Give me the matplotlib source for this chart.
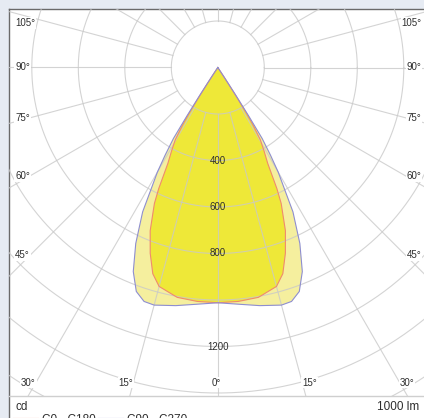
import numpy as np
import matplotlib
matplotlib.use('Agg')
import matplotlib.pyplot as plt

# Luminous intensity (cd) per gamma angle (deg from nadir), half curves, mirrored
gamma_c0 = [0, 5, 10, 15, 17.5, 20, 22.5, 25, 26, 27.5, 29, 30.5, 31.5, 32, 32.5, 33, 33.5, 34]
cd_c0 = [1012, 1010, 1004, 975, 930, 850, 760, 645, 580, 465, 410, 360, 290, 235, 160, 85, 25, 0]

gamma_c90 = [0, 5, 10, 15, 17.5, 20, 22.5, 25, 27.5, 30, 31, 32, 32.5, 33, 33.5, 34]
cd_c90 = [1012, 1022, 1040, 1058, 1055, 1025, 950, 835, 700, 520, 440, 360, 250, 140, 50, 0]

ring_values = [200, 400, 600, 800, 1000, 1200, 1400, 1600, 1800]
ring_labels = [400, 600, 800, 1200]
spoke_angles = list(range(0, 360, 15))
side_angles = [45, 60, 75, 90, 105]
bottom_angles = [0, 15, 30]
flux_text = '1000 lm'
unit_text = 'cd'
legend_names = ['C0 - C180', 'C90 - C270']

plt.rcParams['font.family'] = ['Liberation Sans', 'DejaVu Sans']

W, H = 424, 418
fig = plt.figure(figsize=(W / 100, H / 100), dpi=100, facecolor='#e6ebf3')

# white panel with dark left/top border
panel_l, panel_r, panel_t = 9, 426.6, 9
panel = fig.add_axes([panel_l / W, 0, (panel_r - panel_l) / W, (H - panel_t) / H])
panel.set_facecolor('white')
panel.set_xticks([])
panel.set_yticks([])
for side in ['right', 'bottom']:
    panel.spines[side].set_visible(False)
for side in ['left', 'top']:
    panel.spines[side].set_color('#6a6a6a')
    panel.spines[side].set_linewidth(1.0)

# polar diagram area (pixel geometry)
plot_b = 396
cx, cy = 217.8, 67.5   # origin in pixels
k = 0.2325             # pixels per cd

ax = fig.add_axes([panel_l / W, (H - plot_b) / H, (panel_r - panel_l) / W, (plot_b - panel_t) / H])
ax.set_facecolor('none')
ax.set_xlim((panel_l - cx) / k, (panel_r - cx) / k)
ax.set_ylim((cy - plot_b) / k, (cy - panel_t) / k)
ax.set_xticks([])
ax.set_yticks([])
for side in ['left', 'right', 'top']:
    ax.spines[side].set_visible(False)
ax.spines['bottom'].set_color('#cfcfcf')
ax.spines['bottom'].set_linewidth(1.0)


def px2data(px, py):
    return (px - cx) / k, (cy - py) / k


def curve_xy(gammas, values):
    g = np.radians(np.array(gammas, dtype=float))
    v = np.array(values, dtype=float)
    x = np.concatenate([-(v * np.sin(g))[::-1], v * np.sin(g)])
    y = np.concatenate([-(v * np.cos(g))[::-1], -v * np.cos(g)])
    return x, y


x90, y90 = curve_xy(gamma_c90, cd_c90)
x0, y0 = curve_xy(gamma_c0, cd_c0)

ax.fill(x90, y90, color='#f5ef9e', zorder=1, lw=0)
ax.fill(x0, y0, color='#eee838', zorder=1.5, lw=0)

# grid: rings and spokes
grid_kw = dict(color='#c9c9c9', lw=0.8, alpha=0.8, zorder=2)
t = np.linspace(0, 2 * np.pi, 400)
for r in ring_values:
    ax.plot(r * np.cos(t), r * np.sin(t), **grid_kw)
for a in spoke_angles:
    ar = np.radians(a)
    ax.plot([200 * np.sin(ar), 2400 * np.sin(ar)], [-200 * np.cos(ar), -2400 * np.cos(ar)], **grid_kw)

ax.plot(x0, y0, color='#f08a6e', lw=0.8, zorder=3)
ax.plot(x90, y90, color='#8e8ed0', lw=0.8, zorder=3.2)

txt = '#2e2e2e'
for r in ring_labels:
    ax.text(0, -r, str(r), ha='center', va='center', fontsize=7, color=txt, zorder=4)

box = dict(facecolor='white', edgecolor='none', pad=0.6)

# angle labels on the sides
for a in side_angles:
    dx = cx - 30
    py = max(cy + dx / np.tan(np.radians(a)), 22.7)
    lx, ly = px2data(panel_l + 6, py)
    ax.text(lx, ly, f'{a}°', ha='left', va='center', fontsize=7, color=txt, bbox=box, zorder=5)
    rx, ry = px2data(panel_r - 5, py)
    ax.text(rx, ry, f'{a}°', ha='right', va='center', fontsize=7, color=txt, bbox=box, zorder=5)

# angle labels along the bottom
label_y = 382.5
for a in bottom_angles:
    off = (label_y - cy) * np.tan(np.radians(a))
    if a == 0:
        bx, by = px2data(cx - 1, label_y)
        ax.text(bx, by, f'{a}°', ha='center', va='center', fontsize=7, color=txt, bbox=box, zorder=5)
    else:
        bx, by = px2data(cx - off, label_y)
        ax.text(bx, by, f'{a}°', ha='right', va='center', fontsize=7, color=txt, bbox=box, zorder=5)
        bx, by = px2data(cx + off, label_y)
        ax.text(bx, by, f'{a}°', ha='left', va='center', fontsize=7, color=txt, bbox=box, zorder=5)

# footer: unit, flux and curve legend
fig.text(15 / W, 1 - 407 / H, unit_text, ha='left', va='center', fontsize=8.5, color=txt)
fig.text(419 / W, 1 - 407 / H, flux_text, ha='right', va='center', fontsize=8.5, color=txt)

legend_colors = ['#f08a6e', '#8e8ed0']
legend_x = [13, 98]
for name, col, lx in zip(legend_names, legend_colors, legend_x):
    fig.add_artist(plt.Line2D([lx / W, (lx + 25) / W], [1 - 417.6 / H] * 2, color=col, lw=0.8))
    fig.text((lx + 29) / W, 1 - 413.6 / H, name, ha='left', va='top', fontsize=8.5, color=txt)

fig.savefig('out.png', dpi=100, facecolor=fig.get_facecolor())
